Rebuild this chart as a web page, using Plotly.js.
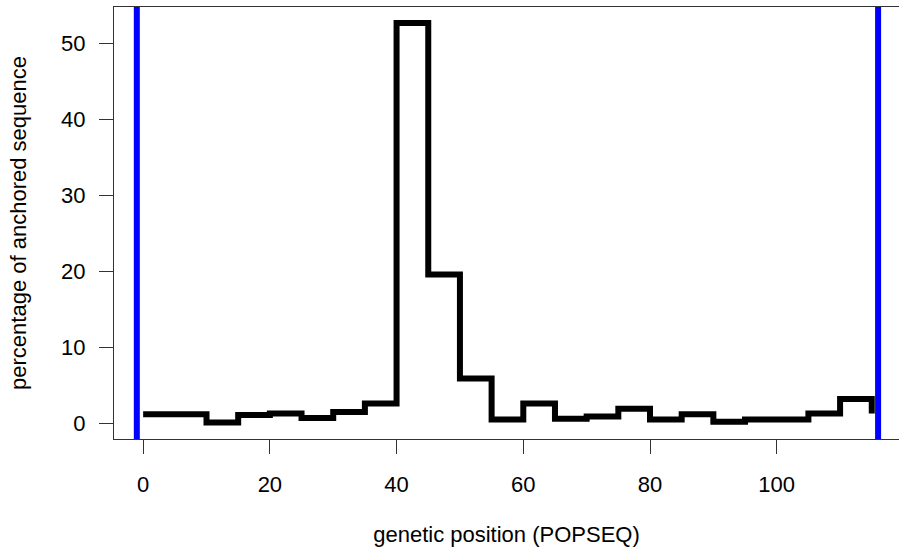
<!DOCTYPE html>
<html>
<head>
<meta charset="utf-8">
<script src="https://cdn.plot.ly/plotly-3.0.1.min.js"></script>
<style>html,body{margin:0;padding:0;background:#fff;overflow:hidden}#chart{width:899px;height:547px}</style>
</head>
<body>
<div id="chart"></div>
<script>
// genetic position bins (POPSEQ, cM) - step start positions
const positions = [0,5,10,15,20,25,30,35,40,45,50,55,60,65,70,75,80,85,90,95,100,105,110,115];
// percentage of anchored sequence per bin
const percentages = [1.2,1.2,0.1,1.1,1.3,0.7,1.5,2.6,52.7,19.6,5.9,0.5,2.6,0.6,0.9,1.9,0.5,1.2,0.2,0.5,0.5,1.3,3.2,1.3];
// chromosome boundaries (blue lines)
const boundaries = [-1, 116];
const xTicks = [0,20,40,60,80,100];
const yTicks = [0,10,20,30,40,50];

const font = {family: 'Liberation Sans, Arial, sans-serif', size: 22, color: '#000'};

const traces = [{
  x: positions, y: percentages, type: 'scatter', mode: 'lines',
  line: {shape: 'hv', color: '#000', width: 6},
  hoverinfo: 'x+y', showlegend: false
}];

const shapes = boundaries.map(b => ({
  type: 'line', xref: 'x', yref: 'paper', x0: b, x1: b, y0: 0, y1: 1,
  line: {color: '#0000ff', width: 6}, layer: 'above'
}));

const layout = {
  width: 899, height: 547,
  margin: {l: 114, r: 0, t: 7, b: 108},
  paper_bgcolor: '#fff', plot_bgcolor: '#fff',
  font: font,
  showlegend: false,
  xaxis: {
    range: [-4.6, 119.3], tickvals: xTicks, ticktext: xTicks.map(String),
    ticks: 'outside', ticklen: 14, tickwidth: 1, tickcolor: '#333',
    ticklabelstandoff: 12,
    showline: true, linecolor: '#333', linewidth: 1, mirror: true,
    showgrid: false, zeroline: false, tickfont: font,
    title: {text: 'genetic position (POPSEQ)', font: font, standoff: 33}
  },
  yaxis: {
    range: [-2.07, 54.8], tickvals: yTicks, ticktext: yTicks.map(String),
    ticks: 'outside', ticklen: 14, tickwidth: 1, tickcolor: '#333',
    ticklabelstandoff: 9,
    showline: true, linecolor: '#333', linewidth: 1,
    showgrid: false, zeroline: false, tickfont: font,
    title: {text: 'percentage of anchored sequence', font: font, standoff: 28}
  },
  shapes: shapes
};

Plotly.newPlot('chart', traces, layout, {displayModeBar: false, staticPlot: true});
</script>
</body>
</html>
